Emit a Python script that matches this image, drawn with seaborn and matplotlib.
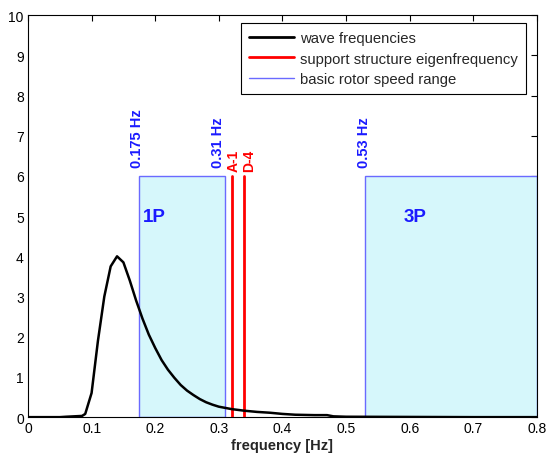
import pandas as pd
import matplotlib
matplotlib.use("Agg")
import matplotlib.pyplot as plt
import seaborn as sns
from matplotlib.patches import Rectangle
from matplotlib.lines import Line2D

# wave spectrum
freq = [0, 0.05, 0.06, 0.085, 0.09, 0.1, 0.11, 0.12, 0.13, 0.14, 0.15, 0.16,
        0.17, 0.18, 0.19, 0.2, 0.21, 0.22, 0.23, 0.24, 0.25, 0.26, 0.27, 0.28,
        0.29, 0.3, 0.32, 0.34, 0.36, 0.38, 0.4, 0.42, 0.45, 0.47, 0.48, 0.5,
        0.6, 0.7, 0.8]
spectrum = [0, 0, 0.01, 0.03, 0.08, 0.6, 1.9, 3.0, 3.75, 4.0, 3.85, 3.4,
            2.9, 2.45, 2.05, 1.72, 1.42, 1.18, 0.98, 0.8, 0.66, 0.55, 0.45, 0.37,
            0.31, 0.26, 0.2, 0.16, 0.13, 0.11, 0.08, 0.06, 0.05, 0.05, 0.02, 0.01,
            0.005, 0, 0]

eigen_freq = [0.32, 0.34]
eigen_names = ["A-1", "D-4"]
eigen_height = 6

rotor_ranges = [(0.175, 0.31), (0.53, 0.8)]
rotor_names = ["1P", "3P"]
rotor_height = 6
edge_labels = [(0.175, "0.175 Hz"), (0.31, "0.31 Hz"), (0.53, "0.53 Hz")]


def main():
    sns.set_style("white")
    plt.rcParams["font.family"] = ["Liberation Sans", "DejaVu Sans"]
    plt.rcParams["xtick.direction"] = "in"
    plt.rcParams["ytick.direction"] = "in"

    df = pd.DataFrame({"frequency": freq, "S": spectrum})

    fig = plt.figure(figsize=(5.48, 4.6), dpi=100)
    ax = fig.add_axes([0.051, 0.091, 0.929, 0.874])

    blue_edge = "#6a6aff"
    text_blue = "#1a1aff"
    name_x = [0.180, 0.590]
    for (lo, hi), name, nx in zip(rotor_ranges, rotor_names, name_x):
        ax.add_patch(Rectangle((lo, 0), hi - lo, rotor_height,
                               facecolor="#d6f7fb", edgecolor=blue_edge, lw=1, zorder=1))
        ax.text(nx, 5.0, name, color=text_blue, fontsize=13.5,
                fontweight="bold", ha="left", va="center")

    label_x = [0.172, 0.298, 0.528]
    for (x, lab), lx in zip(edge_labels, label_x):
        ax.text(lx, 6.22, lab, rotation=90, color=text_blue, fontsize=10.5,
                fontweight="bold", ha="center", va="bottom")

    name_pos = [0.323, 0.348]
    for x, lab, px in zip(eigen_freq, eigen_names, name_pos):
        ax.plot([x, x], [0, eigen_height], color="red", lw=2, zorder=3)
        ax.text(px, 6.12, lab, rotation=90, color="red", fontsize=10,
                fontweight="bold", ha="center", va="bottom")

    sns.lineplot(data=df, x="frequency", y="S", color="black", lw=1.8, ax=ax, zorder=4)

    ax.set_xlim(0, 0.8)
    ax.set_ylim(0, 10)
    ax.set_xticks([0, 0.1, 0.2, 0.3, 0.4, 0.5, 0.6, 0.7, 0.8])
    ax.set_xticklabels(["0", "0.1", "0.2", "0.3", "0.4", "0.5", "0.6", "0.7", "0.8"])
    ax.set_yticks(range(0, 11))
    ax.tick_params(labelsize=10, length=4, top=True, right=True, colors="black", pad=3)
    ax.set_xlabel("frequency [Hz]", fontsize=10.5, fontweight="bold", labelpad=2)
    ax.set_ylabel("")
    for s in ax.spines.values():
        s.set_color("black")
        s.set_linewidth(0.8)

    handles = [Line2D([], [], color="black", lw=2),
               Line2D([], [], color="red", lw=2),
               Line2D([], [], color=blue_edge, lw=1)]
    ax.legend(handles, ["wave frequencies", "support structure eigenfrequency",
                        "basic rotor speed range"],
              loc="upper right", bbox_to_anchor=(0.978, 0.981), fontsize=10.7,
              frameon=True, fancybox=False, edgecolor="black", framealpha=1,
              handlelength=3.0, handletextpad=0.4, borderpad=0.55, labelspacing=0.45,
              borderaxespad=0)
    ax.get_legend().get_frame().set_linewidth(0.8)

    fig.savefig("out.png", dpi=100, facecolor="white")


if __name__ == "__main__":
    main()
